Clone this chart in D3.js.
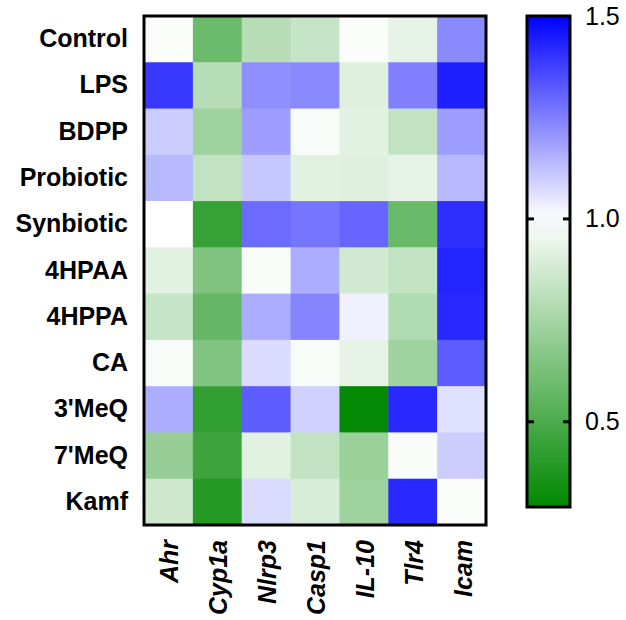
<!DOCTYPE html>
<html lang="en">
<head>
    <meta charset="UTF-8">
    <title>Heatmap</title>
    <script src="https://d3js.org/d3.v7.min.js"></script>
    <style>
        body { margin: 0; background: #fff; }
        .lbl text { font-family: "Liberation Sans", Arial, sans-serif; fill: #000; }
    </style>
</head>
<body>
<div id="chart"></div>
<script>
    // groups (rows) and genes (columns)
    var groups = ["Control", "LPS", "BDPP", "Probiotic", "Synbiotic", "4HPAA", "4HPPA", "CA", "3'MeQ", "7'MeQ", "Kamf"];
    var genes = ["Ahr", "Cyp1a", "Nlrp3", "Casp1", "IL-10", "Tlr4", "Icam"];

    // fold change, one row per group, columns in gene order
    var expression = [
        [0.99, 0.59, 0.80, 0.84, 0.99, 0.93, 1.23],
        [1.39, 0.80, 1.22, 1.23, 0.91, 1.25, 1.44],
        [1.10, 0.73, 1.19, 0.98, 0.92, 0.83, 1.19],
        [1.14, 0.83, 1.11, 0.92, 0.91, 0.93, 1.14],
        [1.00, 0.44, 1.29, 1.27, 1.30, 0.58, 1.41],
        [0.92, 0.64, 0.98, 1.16, 0.87, 0.83, 1.43],
        [0.84, 0.57, 1.16, 1.24, 1.03, 0.78, 1.42],
        [0.98, 0.65, 1.07, 0.98, 0.93, 0.73, 1.32],
        [1.16, 0.43, 1.32, 1.09, 0.30, 1.42, 1.06],
        [0.71, 0.46, 0.92, 0.83, 0.72, 0.98, 1.10],
        [0.86, 0.39, 1.07, 0.89, 0.73, 1.42, 0.99]
    ];

    var colorTicks = [0.5, 1.0, 1.5];
    var colorMin = 0.29, colorMid = 1.0, colorMax = 1.5;

    var w = 626, h = 620;
    var svg = d3.select("#chart").append("svg")
        .attr("width", w)
        .attr("height", h);

    // note: "top" is taken by window.top, so use hm* names
    var hmLeft = 144, hmRight = 486, hmTop = 16, hmBottom = 525;

    var x = d3.scaleBand().domain(genes).range([hmLeft, hmRight]);
    var y = d3.scaleBand().domain(groups).range([hmTop, hmBottom]);

    var color = d3.scaleLinear()
        .domain([colorMin, colorMid, colorMax])
        .range(["#008800", "#ffffff", "#0000ff"])
        .clamp(true);

    var cells = [];
    groups.forEach(function (g, i) {
        genes.forEach(function (k, j) {
            cells.push({group: g, gene: k, value: expression[i][j]});
        });
    });

    svg.append("g")
        .selectAll("rect")
        .data(cells)
        .enter()
        .append("rect")
        .attr("x", d => x(d.gene))
        .attr("y", d => y(d.group))
        .attr("width", x.bandwidth() + 0.5)
        .attr("height", y.bandwidth() + 0.5)
        .attr("fill", d => color(d.value));

    // frame
    svg.append("rect")
        .attr("x", hmLeft)
        .attr("y", hmTop)
        .attr("width", hmRight - hmLeft)
        .attr("height", hmBottom - hmTop)
        .attr("fill", "none")
        .attr("stroke", "#000")
        .attr("stroke-width", 3);

    // row labels
    var yAxis = svg.append("g")
        .attr("class", "lbl")
        .attr("transform", "translate(" + hmLeft + ",0)")
        .call(d3.axisLeft(y).tickSize(0).tickPadding(16));
    yAxis.select(".domain").remove();
    yAxis.selectAll("text")
        .style("font-size", "25px")
        .style("font-weight", "bold");

    // column labels
    var xAxis = svg.append("g")
        .attr("class", "lbl")
        .attr("transform", "translate(0," + hmBottom + ")")
        .call(d3.axisBottom(x).tickSize(0));
    xAxis.select(".domain").remove();
    xAxis.selectAll("text")
        .attr("transform", "rotate(-90)")
        .attr("x", -15)
        .attr("y", 0)
        .attr("dy", "0.4em")
        .attr("text-anchor", "end")
        .style("font-size", "25px")
        .style("font-weight", "bold")
        .style("font-style", "italic");

    // colour bar
    var cbLeft = 527, cbRight = 570, cbTop = 16, cbBottom = 507;
    var cbScale = d3.scaleLinear().domain([colorMin, colorMax]).range([cbBottom, cbTop]);

    var grad = svg.append("defs").append("linearGradient")
        .attr("id", "cbgrad")
        .attr("x1", 0).attr("y1", 1)
        .attr("x2", 0).attr("y2", 0);
    d3.range(0, 1.0001, 0.05).forEach(function (t) {
        grad.append("stop")
            .attr("offset", t)
            .attr("stop-color", color(colorMin + t * (colorMax - colorMin)));
    });

    svg.append("rect")
        .attr("x", cbLeft)
        .attr("y", cbTop)
        .attr("width", cbRight - cbLeft)
        .attr("height", cbBottom - cbTop)
        .attr("fill", "url(#cbgrad)")
        .attr("stroke", "#000")
        .attr("stroke-width", 3);

    // inward tick marks on both edges
    var marks = svg.append("g");
    colorTicks.filter(v => v < colorMax).forEach(function (v) {
        marks.append("line")
            .attr("x1", cbLeft).attr("x2", cbLeft + 7)
            .attr("y1", cbScale(v)).attr("y2", cbScale(v))
            .attr("stroke", "#000").attr("stroke-width", 3);
        marks.append("line")
            .attr("x1", cbRight - 7).attr("x2", cbRight)
            .attr("y1", cbScale(v)).attr("y2", cbScale(v))
            .attr("stroke", "#000").attr("stroke-width", 3);
    });

    var cAxis = svg.append("g")
        .attr("class", "lbl")
        .attr("transform", "translate(" + cbRight + ",0)")
        .call(d3.axisRight(cbScale).tickValues(colorTicks).tickFormat(d3.format(".1f")).tickSize(0).tickPadding(15));
    cAxis.select(".domain").remove();
    cAxis.selectAll("text")
        .style("font-size", "25px");
</script>
</body>
</html>
